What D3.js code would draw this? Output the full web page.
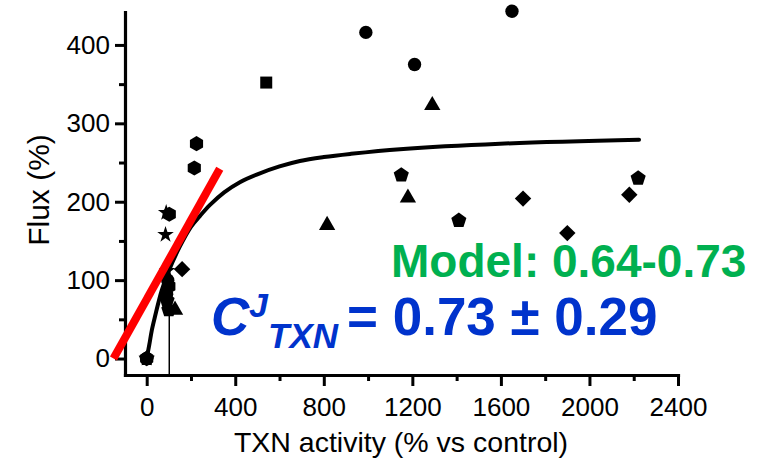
<!DOCTYPE html>
<html><head><meta charset="utf-8">
<script src="https://cdn.jsdelivr.net/npm/d3@7"></script>
<style>html,body{margin:0;padding:0;background:#fff;}svg{display:block;}</style>
</head><body>
<svg id="chart" width="783" height="461"></svg>
<script>
// ---- data ----
const xTicks = [0, 400, 800, 1200, 1600, 2000, 2400];
const xMinorTicks = [200, 600, 1000, 1400, 1800, 2200];
const yTicks = [0, 100, 200, 300, 400];
const yMinorTicks = [50, 150, 250, 350];

const circles   = [[0,0],[990,416],[1210,375],[1650,443],[90,82],[95,100]];
const squares   = [[540,352]];
const triangles = [[1290,323],[1180,205],[815,170],[128,62]];
const pentagons = [[0,0],[1150,234],[1410,176],[2220,230],[100,62],[92,74]];
const diamonds  = [[1700,204],[1900,160],[2180,209],[160,114]];
const hexagons  = [[0,0],[225,274],[215,243],[102,184],[100,92]];
const stars     = [[0,0],[85,158],[88,186],[92,112]];

const fitCurve = [[0,0],[12,18],[23,36],[37,53],[68,87],[100,112],[150,143],[200,168],[241,182],[286,196],[350,212],[421,225],[500,235],[600,245],[692,252],[800,257],[919,261],[1144,267],[1596,274],[2224,279]];
const redLine = [[-150,0],[330,242]];
const errorBar = [[102,62],[102,-21]];

const xTitle = "TXN activity (% vs control)";
const yTitle = "Flux (%)";
const modelText = "Model: 0.64-0.73";
const coefMain = "C", coefSup = "J", coefSub = "TXN", coefValue = "= 0.73 ± 0.29";

// ---- layout ----
const svg = d3.select("#chart");
const font = "'Liberation Sans', Arial, sans-serif";
const x = d3.scaleLinear().domain([-98, 2400]).range([125, 678]);
const y = d3.scaleLinear().domain([-21, 442]).range([375, 12]);

// axes
const gx = svg.append("g").attr("transform", "translate(0,375)");
gx.call(d3.axisBottom(x).tickValues(xMinorTicks).tickSize(6).tickSizeOuter(0).tickFormat(""));
gx.call(g => g.select(".domain").remove());
const gx2 = svg.append("g").attr("transform", "translate(0,375)");
gx2.call(d3.axisBottom(x).tickValues(xTicks).tickSize(11).tickPadding(12).tickSizeOuter(0).tickFormat(d3.format("d")));

const gy = svg.append("g").attr("transform", "translate(125,0)");
gy.call(d3.axisLeft(y).tickValues(yMinorTicks).tickSize(6).tickSizeOuter(0).tickFormat(""));
gy.call(g => g.select(".domain").remove());
const gy2 = svg.append("g").attr("transform", "translate(125,0)");
gy2.call(d3.axisLeft(y).tickValues(yTicks).tickSize(10).tickPadding(5).tickSizeOuter(0).tickFormat(d3.format("d")));

svg.selectAll(".tick line").attr("stroke", "#000").attr("stroke-width", 3);
svg.selectAll(".domain").attr("stroke", "#000").attr("stroke-width", 3.2).attr("stroke-linecap", "square");
svg.selectAll(".tick text").attr("font-family", font).attr("font-size", 26).attr("fill", "#000");

// axis titles
svg.append("text").attr("x", 401).attr("y", 452).attr("text-anchor", "middle")
  .attr("font-family", font).attr("font-size", 28.5).text(xTitle);
svg.append("text").attr("transform", "translate(49,190) rotate(-90)").attr("text-anchor", "middle")
  .attr("font-family", font).attr("font-size", 30).text(yTitle);

// error bar / drop line
svg.append("path").attr("d", d3.line().x(d => x(d[0])).y(d => y(d[1]))(errorBar))
  .attr("stroke", "#000").attr("stroke-width", 1.5).attr("fill", "none");

// custom polygon symbol
function polygon(n) {
  return {draw(ctx, size) {
    const r = Math.sqrt(size / (n / 2 * Math.sin(2 * Math.PI / n)));
    for (let i = 0; i < n; i++) {
      const a = -Math.PI / 2 + i * 2 * Math.PI / n;
      const px = r * Math.cos(a), py = r * Math.sin(a);
      if (i === 0) ctx.moveTo(px, py); else ctx.lineTo(px, py);
    }
    ctx.closePath();
  }};
}
const series = [
  {data: stars, type: d3.symbolStar, size: 85, rot: 0},
  {data: hexagons, type: polygon(6), size: 150, rot: 0},
  {data: pentagons, type: polygon(5), size: 150, rot: 0},
  {data: circles, type: d3.symbolCircle, size: 140, rot: 0},
  {data: squares, type: d3.symbolSquare, size: 144, rot: 0},
  {data: triangles, type: d3.symbolTriangle, size: 115, rot: 0},
  {data: diamonds, type: d3.symbolSquare, size: 135, rot: 45},
];
series.forEach(s => {
  svg.append("g").selectAll("path").data(s.data).join("path")
    .attr("d", d3.symbol().type(s.type).size(s.size))
    .attr("transform", d => `translate(${x(d[0])},${y(d[1])}) rotate(${s.rot})`)
    .attr("fill", "#000");
});

// fitted curve
svg.append("path").attr("d", d3.line().x(d => x(d[0])).y(d => y(d[1])).curve(d3.curveCatmullRom.alpha(0.5))(fitCurve))
  .attr("stroke", "#000").attr("stroke-width", 4).attr("fill", "none").attr("stroke-linecap", "round");

// red line
svg.append("path").attr("d", d3.line().x(d => x(d[0])).y(d => y(d[1]))(redLine))
  .attr("stroke", "#ff0000").attr("stroke-width", 8).attr("fill", "none");

// annotations
svg.append("text").attr("x", 391).attr("y", 277)
  .attr("font-family", font).attr("font-weight", "bold").attr("font-size", 46)
  .attr("fill", "#00b050").text(modelText);

const blue = "#0033cc";
svg.append("text").attr("x", 211).attr("y", 335)
  .attr("font-family", font).attr("font-weight", "bold").attr("font-style", "italic").attr("font-size", 53)
  .attr("fill", blue).text(coefMain);
svg.append("text").attr("x", 249).attr("y", 317)
  .attr("font-family", font).attr("font-weight", "bold").attr("font-style", "italic").attr("font-size", 34)
  .attr("fill", blue).text(coefSup);
svg.append("text").attr("x", 268).attr("y", 348)
  .attr("font-family", font).attr("font-weight", "bold").attr("font-style", "italic").attr("font-size", 35)
  .attr("fill", blue).text(coefSub);
svg.append("text").attr("x", 347).attr("y", 335)
  .attr("font-family", font).attr("font-weight", "bold").attr("font-size", 53)
  .attr("fill", blue).text(coefValue);
</script>
</body></html>
